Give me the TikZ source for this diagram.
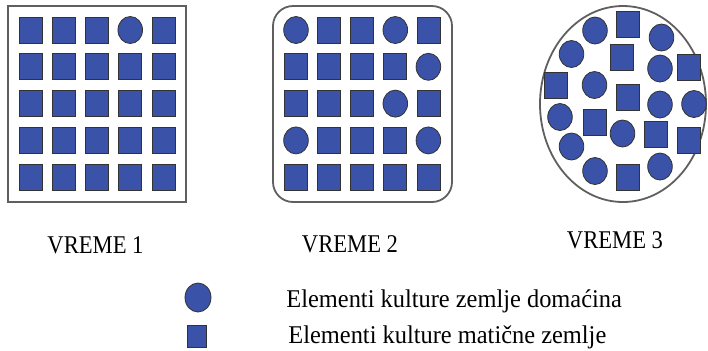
\documentclass[tikz,border=0pt]{standalone}
\usepackage{graphicx}
\usepackage{fontspec}
\setmainfont{Liberation Serif}
\usetikzlibrary{shapes.geometric}
\definecolor{elemblue}{RGB}{58,82,168}
\definecolor{boxgray}{RGB}{95,95,95}
\newcommand{\tall}[1]{\scalebox{1}[1.13]{#1}}
\newcommand{\wide}[1]{\scalebox{1.08}[1.13]{#1}}

\begin{document}
\begin{tikzpicture}[x=0.5pt,y=-0.5pt,
  elS/.style={rectangle,draw=black!80,line width=0.4pt,fill=elemblue,inner sep=0pt,minimum width=11.5pt,minimum height=13pt},
  elC/.style={ellipse,draw=black!80,line width=0.4pt,fill=elemblue,inner sep=0pt,minimum width=12.3pt,minimum height=13.5pt},
  boxline/.style={draw=boxgray,line width=0.9pt},
  timetext/.style={font=\fontsize{11.3}{13}\selectfont,inner sep=0pt,anchor=base}]
\useasboundingbox (0,0) rectangle (708,350);
% vreme 1
\draw[boxline] (8,6) rectangle (186,202);
\foreach \row [count=\r] in {{elS,elS,elS,elC,elS},{elS,elS,elS,elS,elS},{elS,elS,elS,elS,elS},{elS,elS,elS,elS,elS},{elS,elS,elS,elS,elS}}
  \foreach \s [count=\c] in \row
    \node[\s] (a\r\c) at ({-2.75+33.25*\c},{-6.8+36.8*\r}) {};
% vreme 2
\draw[boxline,rounded corners=10pt] (273,6) rectangle (452,202);
\foreach \row [count=\r] in {{elC,elS,elS,elC,elS},{elS,elS,elS,elS,elC},{elS,elS,elS,elC,elS},{elC,elS,elS,elS,elC},{elS,elS,elS,elS,elS}}
  \foreach \s [count=\c] in \row
    \node[\s] (b\r\c) at ({262.9+33.1*\c},{-6.8+36.8*\r}) {};
% vreme 3
\draw[boxline] (623,104) ellipse [x radius=83, y radius=98];
\foreach \s/\x/\y [count=\i] in {elC/595/30.5, elS/628/24.5, elC/661.5/37.5,
    elC/571.5/54, elS/622/57.5, elC/660/68.5, elS/688.5/67.5,
    elS/556/85.5, elC/594.5/85, elS/628/97.5, elC/660/104.5, elC/694/104,
    elC/560/117, elS/594.5/122.5, elC/622.5/133.5, elS/655.5/134.5, elS/688.5/140.5,
    elC/571.5/146.5, elC/595/171, elS/628/177, elC/660/166.5}
  \node[\s] (c\i) at (\x,\y) {};
% labels
\node[timetext] (t1) at (95.5,253) {\tall{VREME 1}};
\node[timetext] (t2) at (350,252) {\tall{VREME 2}};
\node[timetext] (t3) at (615,248) {\tall{VREME 3}};
% legend
\node[elC,minimum width=13pt,minimum height=14.5pt] (keyC) at (198,297.5) {};
\node[elS,minimum width=9.5pt,minimum height=11pt] (keyS) at (196.5,336) {};
\node[timetext,anchor=base west] (keyCtext) at (286,307) {\wide{Elementi kulture zemlje domaćina}};
\node[timetext,anchor=base west] (keyStext) at (288,343) {\wide{Elementi kulture matične zemlje}};
\end{tikzpicture}
\end{document}
